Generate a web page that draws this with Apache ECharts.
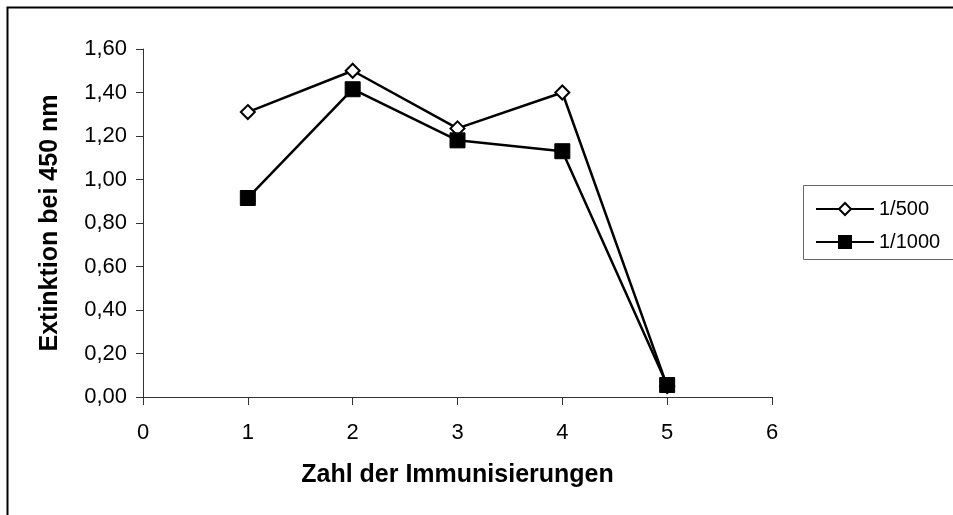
<!DOCTYPE html>
<html>
<head>
<meta charset="utf-8">
<script src="https://cdn.jsdelivr.net/npm/echarts@6/dist/echarts.min.js"></script>
<style>
  html, body { margin: 0; padding: 0; background: #fff; }
  #ec { width: 953px; height: 515px; }
</style>
</head>
<body>
<div id="ec"></div>
<script>
// Zahl der Immunisierungen
var immunisierungen = [1, 2, 3, 4, 5];
// Extinktion bei 450 nm
var verd_500 = [1.31, 1.50, 1.235, 1.40, 0.05];
var verd_1000 = [0.915, 1.415, 1.18, 1.13, 0.055];
var seriesNames = ['1/500', '1/1000'];

var ec = echarts.init(document.getElementById('ec'));

function pairs(xs, ys) {
  return xs.map(function(x, i) { return [x, ys[i]]; });
}

var font = 'Liberation Sans, Arial, sans-serif';

var option = {
  backgroundColor: '#fff',
  animation: false,
  grid: { left: 143, right: 181, top: 49, bottom: 118 },
  legend: {
    left: 810,
    top: 194,
    orient: 'vertical',
    itemGap: 13,
    itemWidth: 58,
    itemHeight: 15,
    textStyle: { fontFamily: font, fontSize: 20, color: '#000' },
    data: seriesNames
  },
  xAxis: {
    type: 'value',
    min: 0,
    max: 6,
    interval: 1,
    name: 'Zahl der Immunisierungen',
    nameLocation: 'middle',
    nameGap: 66,
    nameTextStyle: { fontFamily: font, fontSize: 25, fontWeight: 'bold', color: '#000' },
    axisLine: { lineStyle: { color: '#333', width: 1 } },
    axisTick: { show: true, length: 8, lineStyle: { color: '#333' } },
    axisLabel: { fontFamily: font, fontSize: 22, color: '#000', margin: 25 },
    splitLine: { show: false }
  },
  yAxis: {
    type: 'value',
    min: 0,
    max: 1.6,
    interval: 0.2,
    name: 'Extinktion bei 450 nm',
    nameLocation: 'middle',
    nameGap: 80,
    nameTextStyle: { fontFamily: font, fontSize: 25, fontWeight: 'bold', color: '#000' },
    axisLine: { show: true, lineStyle: { color: '#333', width: 1 } },
    axisTick: { show: true, length: 7, lineStyle: { color: '#333' } },
    axisLabel: {
      fontFamily: font, fontSize: 22, color: '#000', margin: 16,
      formatter: function(v) { return v.toFixed(2).replace('.', ','); }
    },
    splitLine: { show: false }
  },
  graphic: [
    // Rahmen (nur oben und links sichtbar)
    { type: 'polyline', shape: { points: [[7.5, 515], [7.5, 7.5], [953, 7.5]] },
      style: { stroke: '#000', lineWidth: 2, fill: null } },
    // Legendenrahmen
    { type: 'rect', shape: { x: 803.5, y: 185.5, width: 160, height: 74 },
      style: { stroke: '#666', lineWidth: 1, fill: null } }
  ],
  series: [
    {
      name: seriesNames[0],
      type: 'line',
      data: pairs(immunisierungen, verd_500),
      symbol: 'diamond',
      symbolSize: [14, 14],
      showAllSymbol: true,
      z: 2,
      lineStyle: { color: '#000', width: 2.5 },
      itemStyle: { color: '#fff', borderColor: '#000', borderWidth: 2 }
    },
    {
      name: seriesNames[1],
      type: 'line',
      data: pairs(immunisierungen, verd_1000),
      symbol: 'rect',
      symbolSize: 15,
      showAllSymbol: true,
      z: 3,
      lineStyle: { color: '#000', width: 2.5 },
      itemStyle: { color: '#000', borderColor: '#000', borderWidth: 1 }
    }
  ]
};

ec.setOption(option);
</script>
</body>
</html>
